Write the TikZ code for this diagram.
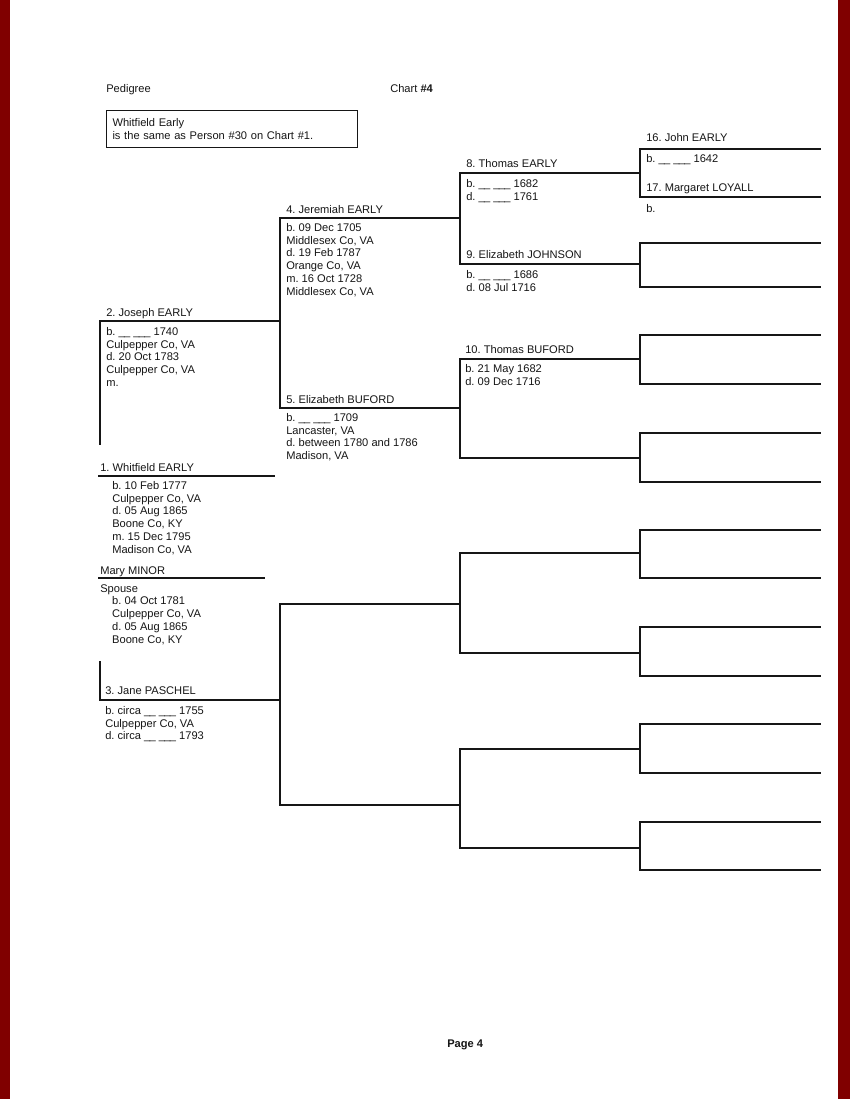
\documentclass[tikz,border=0pt]{standalone}
\usepackage{fontspec}
\setmainfont{Liberation Sans}
\usepackage{tikz}
\usetikzlibrary{positioning}
\definecolor{pagered}{HTML}{800000}
\definecolor{chartink}{HTML}{161616}
\tikzset{
  chartline/.style={line width=0.8pt, draw=chartink, line cap=rect},
  who/.style={font=\fontsize{8}{9.2}\selectfont, anchor=base west,
              inner sep=0pt, text=chartink},
  facts/.style={who, anchor=north west, align=left},
  notebox/.style={draw=chartink, line width=0.8pt, align=left, anchor=north west,
                  font=\fontsize{8}{9.2}\selectfont, text=chartink,
                  inner xsep=4.3pt, text width=172pt, minimum height=26.6pt},
}
\newcommand{\blank}{\_\kern-0.5pt\_\ \_\kern-0.5pt\_\kern-0.5pt\_}
\newcommand{\ind}{\hspace*{8.6pt}}
\frenchspacing

\begin{document}
\begin{tikzpicture}[x=0.72pt, y=-0.72pt]
  \useasboundingbox (0,0) rectangle (850,1099);
  \fill[white] (0,0) rectangle (850,1099);
  \fill[pagered] (0,0) rectangle (10,1099);
  \fill[pagered] (838,0) rectangle (850,1099);

  % header
  \node[who] (title) at (106,92) {Pedigree};
  \node[who] (chart) at (390,92) {Chart \textbf{\#4}};
  \node[notebox] (note) at (106,110) {Whitfield Early\\ is the same as Person \#30 on Chart \#1.};

  % slots of the chart
  \foreach \n/\y in {16/149,17/197,18/243,19/287,20/335,21/384,22/433,23/482,
                     24/530,25/578,26/627,27/676,28/724,29/773,30/822,31/870}
    {\coordinate (s\n) at (640,\y); \coordinate (e\n) at (820,\y);}
  \foreach \n/\y in {8/173,9/264,10/359,11/458,12/553,13/653,14/749,15/848}
    {\coordinate (s\n) at (460,\y); \coordinate (e\n) at (640,\y);}
  \foreach \n/\y in {4/218,5/408,6/604,7/805}
    {\coordinate (s\n) at (280,\y); \coordinate (e\n) at (460,\y);}
  \foreach \n/\y in {2/321,3/700}
    {\coordinate (s\n) at (100,\y); \coordinate (e\n) at (280,\y);}
  \coordinate (j2) at (100,444);
  \coordinate (j3) at (100,662);

  \foreach \n in {2,...,31}
    \draw[chartline] (s\n) -- (e\n);
  \foreach \f/\m in {4/5,6/7,8/9,10/11,12/13,14/15,16/17,18/19,
                     20/21,22/23,24/25,26/27,28/29,30/31}
    \draw[chartline] (s\f) -- (s\m);
  \draw[chartline] (s2) -- (j2);
  \draw[chartline] (j3) -- (s3);

  % person 1 and spouse
  \coordinate (u1) at (99,476);
  \coordinate (u1e) at (274,476);
  \coordinate (um) at (99,578);
  \coordinate (ume) at (264,578);
  \draw[chartline] (u1) -- (u1e);
  \draw[chartline] (um) -- (ume);
  \node[who] (n1) at ([shift={(1,-5)}]u1) {1. Whitfield EARLY};
  \node[facts] (f1) at ([shift={(13,5)}]u1) {b. 10 Feb 1777\\ Culpepper Co, VA\\ d. 05 Aug 1865\\ Boone Co, KY\\ m. 15 Dec 1795\\ Madison Co, VA};
  \node[who] (nm) at ([shift={(1,-4)}]um) {Mary MINOR};
  \node[facts] (fm) at ([shift={(1,6)}]um) {Spouse\\ \ind b. 04 Oct 1781\\ \ind Culpepper Co, VA\\ \ind d. 05 Aug 1865\\ \ind Boone Co, KY};

  % parents
  \node[who] (n2) at ([shift={(6,-5)}]s2) {2. Joseph EARLY};
  \node[facts] (f2) at ([shift={(6,6)}]s2) {b. \blank\ 1740\\ Culpepper Co, VA\\ d. 20 Oct 1783\\ Culpepper Co, VA\\ m.};
  \node[who] (n3) at ([shift={(5,-6)}]s3) {3. Jane PASCHEL};
  \node[facts] (f3) at ([shift={(5,6)}]s3) {b. circa \blank\ 1755\\ Culpepper Co, VA\\ d. circa \blank\ 1793};

  % grandparents
  \node[who] (n4) at ([shift={(6,-5)}]s4) {4. Jeremiah EARLY};
  \node[facts] (f4) at ([shift={(6,5)}]s4) {b. 09 Dec 1705\\ Middlesex Co, VA\\ d. 19 Feb 1787\\ Orange Co, VA\\ m. 16 Oct 1728\\ Middlesex Co, VA};
  \node[who] (n5) at ([shift={(6,-5)}]s5) {5. Elizabeth BUFORD};
  \node[facts] (f5) at ([shift={(6,5)}]s5) {b. \blank\ 1709\\ Lancaster, VA\\ d. between 1780 and 1786\\ Madison, VA};

  % great-grandparents
  \node[who] (n8) at ([shift={(6,-6)}]s8) {8. Thomas EARLY};
  \node[facts] (f8) at ([shift={(6,6)}]s8) {b. \blank\ 1682\\ d. \blank\ 1761};
  \node[who] (n9) at ([shift={(6,-6)}]s9) {9. Elizabeth JOHNSON};
  \node[facts] (f9) at ([shift={(6,6)}]s9) {b. \blank\ 1686\\ d. 08 Jul 1716};
  \node[who] (n10) at ([shift={(5,-6)}]s10) {10. Thomas BUFORD};
  \node[facts] (f10) at ([shift={(5,5)}]s10) {b. 21 May 1682\\ d. 09 Dec 1716};

  % 2nd great-grandparents
  \node[who] (n16) at ([shift={(6,-8)}]s16) {16. John EARLY};
  \node[facts] (f16) at ([shift={(6,5)}]s16) {b. \blank\ 1642};
  \node[who] (n17) at ([shift={(6,-6)}]s17) {17. Margaret LOYALL};
  \node[facts] (f17) at ([shift={(6,7)}]s17) {b.};

  % footer
  \node[who] (page) at (447,1047) {\textbf{Page 4}};
\end{tikzpicture}
\end{document}
